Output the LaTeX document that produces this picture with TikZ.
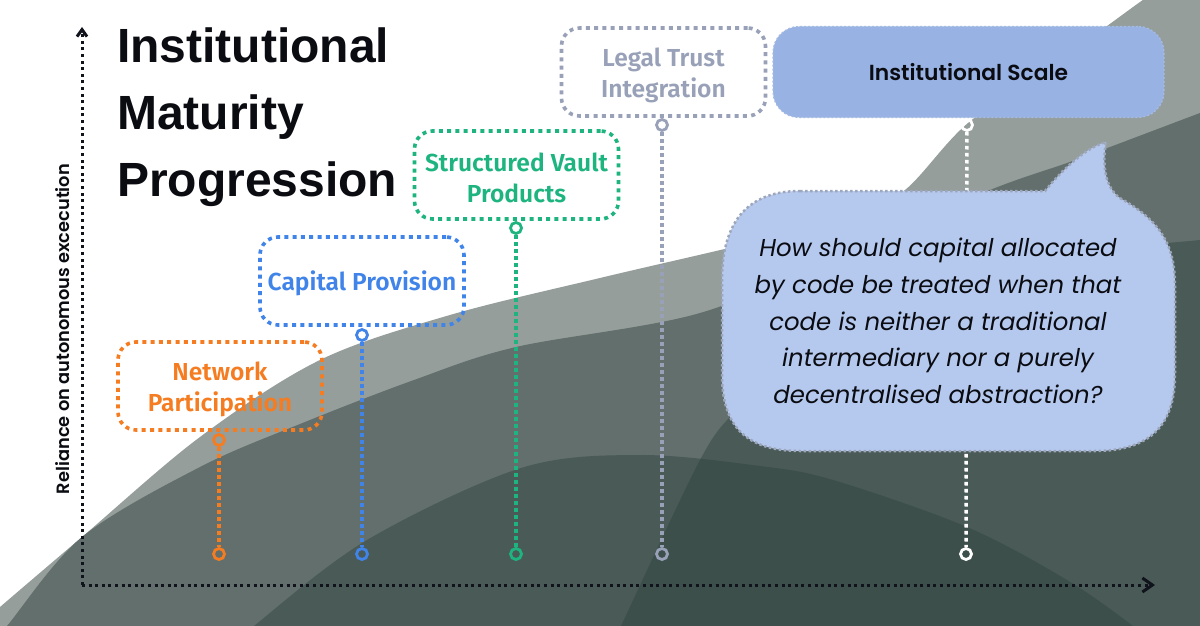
\documentclass[tikz,border=0pt]{standalone}
\usepackage{fontspec}
\setmainfont{Liberation Sans}
\newfontfamily\labfont{Fira Sans SemiBold}
\newfontfamily\popsb{Poppins SemiBold}
\newfontfamily\popit{Poppins Italic}
\usetikzlibrary{arrows.meta}
\definecolor{bgA}{HTML}{959E9A}
\definecolor{bgB}{HTML}{636F6C}
\definecolor{bgC}{HTML}{4A5B57}
\definecolor{bgD}{HTML}{3C4F4B}
\definecolor{cOrange}{HTML}{F57C20}
\definecolor{cBlue}{HTML}{4084E9}
\definecolor{cGreen}{HTML}{1EB47F}
\definecolor{cGray}{HTML}{98A1B8}
\definecolor{scaleFill}{HTML}{98B3E3}
\definecolor{scaleLine}{HTML}{A6BBE4}
\definecolor{bubbleFill}{HTML}{B5C9EE}
\definecolor{bubbleLine}{HTML}{9DA6BB}
\definecolor{inkBlack}{HTML}{0B0C12}
\definecolor{axisBlack}{HTML}{10121C}
\tikzset{
  labelbox/.style={draw=#1, line width=3.6pt, dash pattern=on 4pt off 4.3pt,
    rounded corners=18pt, minimum width=204pt, minimum height=88pt, inner sep=0pt},
  labeltext/.style={text=#1, align=center, inner sep=0pt, yshift=-3pt,
    font=\labfont\fontsize{24.6}{31}\selectfont},
  pinc/.style={circle, draw=#1, line width=2.8pt, minimum size=11pt, inner sep=0pt},
  pinline/.style={draw=#1, line width=3.5pt, dash pattern=on 3.6pt off 3.4pt},
  axisline/.style={draw=axisBlack, line width=3pt, dash pattern=on 3pt off 3.6pt},
  titletext/.style={anchor=base west, inner sep=0pt, text=inkBlack,
    font=\bfseries\fontsize{48}{48}\selectfont},
}
\begin{document}
\begin{tikzpicture}[x=1pt,y=-1pt]
\fill[white] (0,0) rectangle (1200,626);
\useasboundingbox (0,0) rectangle (1200,626);
\begin{scope}
\clip (0,0) rectangle (1200,626);
% light band
\fill[bgA] plot[smooth, tension=0.55] coordinates {(-10,616) (0,607) (82,537) (200,437) (320,360) (450,315) (600,278) (733,247) (850,218) (905,190) (968,123) (1060,60) (1140,2) (1165,-15)}
  -- (1230,-20) -- (1230,650) -- (-30,650) -- cycle;
% mid band
\fill[bgB] plot[smooth, tension=0.55] coordinates {(-10,645) (7,626) (82,537) (200,467) (300,424) (414,380) (516,347) (700,313) (850,250) (990,190) (1067,163) (1110,147) (1200,113) (1230,102)}
  -- (1230,650) -- cycle;
% arch
\fill[bgC] plot[smooth, tension=0.55] coordinates {(230,650) (254,626) (367,540) (521,468) (640,455) (760,466) (833,480) (967,527) (1067,580) (1133,626) (1160,650)} -- cycle;
% right dark region
\fill[bgC] plot[smooth, tension=0.55] coordinates {(610,650) (621,626) (700,460) (736,410) (790,352) (880,302) (1000,267) (1100,250) (1200,240) (1230,237)} -- (1230,650) -- cycle;
% overlap
\begin{scope}
\clip plot[smooth, tension=0.55] coordinates {(230,650) (254,626) (367,540) (521,468) (640,455) (760,466) (833,480) (967,527) (1067,580) (1133,626) (1160,650)} -- cycle;
\fill[bgD] plot[smooth, tension=0.55] coordinates {(610,650) (621,626) (700,460) (736,410) (790,352) (880,302) (1000,267) (1100,250) (1200,240) (1230,237)} -- (1230,650) -- cycle;
\end{scope}
\end{scope}

% axes
\coordinate (origin) at (82,585);
\coordinate (ytip) at (82,27);
\coordinate (xtip) at (1155,585);
\draw[axisline, -{Straight Barb[length=7pt,width=10pt]}] (origin) -- (ytip);
\draw[axisline, -{Straight Barb[length=10pt,width=14pt]}] (origin) -- (xtip);

% pins
\node[pinc=cOrange] (p1t) at (219,440) {};
\node[pinc=cOrange] (p1b) at (219,554) {};
\node[pinc=cBlue] (p2t) at (362,335) {};
\node[pinc=cBlue] (p2b) at (362,554) {};
\node[pinc=cGreen] (p3t) at (516,228) {};
\node[pinc=cGreen] (p3b) at (516,554) {};
\node[pinc=cGray] (p4t) at (662,125) {};
\node[pinc=cGray] (p4b) at (662,554) {};
\node[pinc=white] (p5t) at (967,125) {};
\node[pinc=white] (p5b) at (966,554) {};
\draw[pinline=cOrange] (p1t) -- (p1b);
\draw[pinline=cBlue] (p2t) -- (p2b);
\draw[pinline=cGreen] (p3t) -- (p3b);
\draw[pinline=cGray] (p4t) -- (p4b);
\draw[pinline=white] (p5t) -- (p5b);

% label boxes
\node[labelbox=cOrange, label={[labeltext=cOrange]center:Network\\Participation}] (b1) at (220,386) {};
\node[labelbox=cBlue, label={[labeltext=cBlue, yshift=1pt]center:Capital Provision}] (b2) at (362,281) {};
\node[labelbox=cGreen, label={[labeltext=cGreen]center:Structured Vault\\Products}] (b3) at (516.5,175) {};
\node[labelbox=cGray, label={[labeltext=cGray]center:Legal Trust\\Integration}] (b4) at (663.5,72) {};
\node[fill=scaleFill, draw=scaleLine, line width=1.2pt, dash pattern=on 2pt off 2pt,
  rounded corners=26pt, minimum width=391pt, minimum height=91pt, inner sep=0pt,
  text=inkBlack, font=\popsb\fontsize{21.8}{21.8}\selectfont] (b5) at (968.5,72) {Institutional Scale};

% speech bubble
\draw[fill=bubbleFill, draw=bubbleLine, line width=2.5pt, dash pattern=on 2.5pt off 2.5pt]
  (800,191) -- (1045,191)
  .. controls (1062,170) and (1085,148) .. (1106,142)
  .. controls (1103,160) and (1102,190) .. (1125,201)
  .. controls (1160,222) and (1175,245) .. (1175,285)
  -- (1175,375)
  .. controls (1175,425) and (1150,451) .. (1095,451)
  -- (800,451)
  .. controls (745,451) and (722,425) .. (722,375)
  -- (722,280)
  .. controls (722,225) and (745,191) .. (800,191) -- cycle;
\node[align=center, text=inkBlack, inner sep=0pt,
  font=\popit\fontsize{24.4}{36.8}\selectfont] (q) at (938,321)
  {How should capital allocated\\by code be treated when that\\code is neither a traditional\\intermediary nor a purely\\decentralised abstraction?};

% title
\node[titletext] (t1) at (117,63) {Institutional};
\node[titletext] (t2) at (117,129) {Maturity};
\node[titletext] (t3) at (117,196) {Progression};

% y axis label
\node[rotate=90, text=inkBlack, inner sep=0pt, font=\popsb\fontsize{17.8}{17.8}\selectfont] (ylab) at (63,329) {Reliance on autonomous excecution};
\end{tikzpicture}
\end{document}
